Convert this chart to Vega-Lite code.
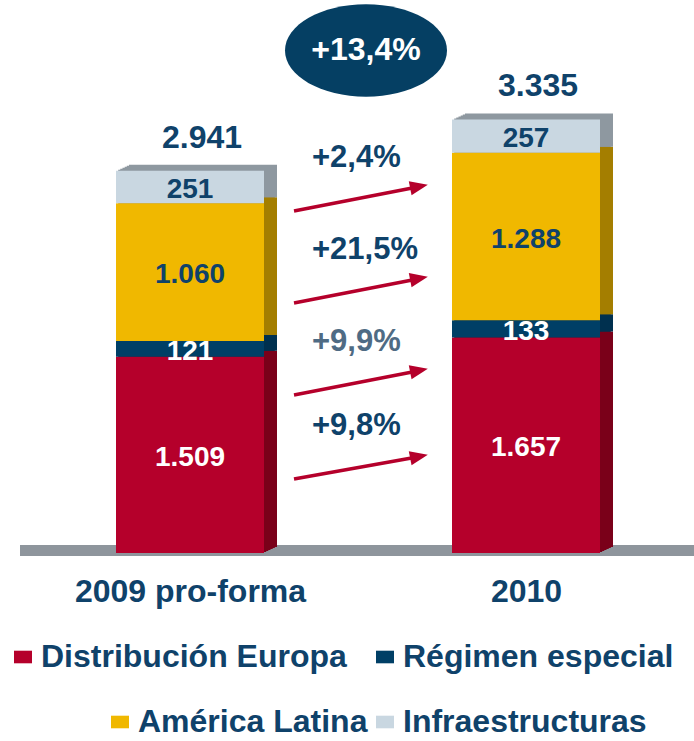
{
  "$schema": "https://vega.github.io/schema/vega-lite/v6.json",
  "width": 694,
  "height": 553,
  "autosize": {"type": "none"},
  "padding": {"left": 0, "top": 0, "right": 0, "bottom": 188},
  "background": "#ffffff",
  "config": {
    "view": {"stroke": null},
    "font": "Liberation Sans",
    "axisX": {"domain": false, "ticks": false, "grid": false, "labelFont": "Liberation Sans", "labelFontSize": 32, "labelFontWeight": "bold", "labelColor": "#0F426A", "labelPadding": 23, "labelAngle": 0, "labelLimit": 500},
    "legend": {"labelFont": "Liberation Sans", "labelFontSize": 32, "labelFontWeight": "bold", "labelColor": "#0F426A", "labelLimit": 600, "symbolType": "M-1,-0.7H1V0.7H-1Z", "symbolSize": 324, "labelOffset": 10, "symbolStrokeWidth": 0}
  },
  "data": {"values": [
    {"year": "2009 pro-forma", "segment": "Distribución Europa", "value": 1509, "label": "1.509", "orden": 1},
    {"year": "2009 pro-forma", "segment": "Régimen especial", "value": 121, "label": "121", "orden": 2},
    {"year": "2009 pro-forma", "segment": "América Latina", "value": 1060, "label": "1.060", "orden": 3},
    {"year": "2009 pro-forma", "segment": "Infraestructuras", "value": 251, "label": "251", "orden": 4},
    {"year": "2010", "segment": "Distribución Europa", "value": 1657, "label": "1.657", "orden": 1},
    {"year": "2010", "segment": "Régimen especial", "value": 133, "label": "133", "orden": 2},
    {"year": "2010", "segment": "América Latina", "value": 1288, "label": "1.288", "orden": 3},
    {"year": "2010", "segment": "Infraestructuras", "value": 257, "label": "257", "orden": 4}
  ]},
  "layer": [
    {
      "data": {"values": [{"nivel": 0}]},
      "mark": {"type": "rule", "color": "#8E959C", "strokeWidth": 11, "xOffset": -170, "x2Offset": 168, "yOffset": -2.5, "y2Offset": -2.5},
      "encoding": {
        "x": {"datum": "2009 pro-forma", "type": "nominal", "title": null, "scale": {"type": "point", "domain": ["2009 pro-forma", "2010"], "range": [190, 526], "padding": 0}},
        "x2": {"datum": "2010"},
        "y": {"field": "nivel", "type": "quantitative", "scale": {"domain": [0, 4254]}, "axis": null}
      }
    },
    {
      "mark": {"type": "bar", "width": 148, "xOffset": 2.2, "yOffset": -1, "y2Offset": -1},
      "encoding": {
        "x": {"field": "year", "type": "nominal", "title": null, "scale": {"type": "point", "domain": ["2009 pro-forma", "2010"], "range": [190, 526], "padding": 0}},
        "y": {"field": "value", "type": "quantitative", "stack": "zero", "scale": {"domain": [0, 4254]}, "axis": null},
        "color": {"field": "segment", "type": "nominal", "scale": {"domain": ["Infraestructuras", "América Latina", "Régimen especial", "Distribución Europa"], "range": ["#8E98A0", "#A47E00", "#00304F", "#7A0019"]}, "legend": null},
        "order": {"field": "orden"}
      }
    },
    {
      "mark": {"type": "bar", "width": 148, "xOffset": 4.3, "yOffset": -2, "y2Offset": -2},
      "encoding": {
        "x": {"field": "year", "type": "nominal", "title": null, "scale": {"type": "point", "domain": ["2009 pro-forma", "2010"], "range": [190, 526], "padding": 0}},
        "y": {"field": "value", "type": "quantitative", "stack": "zero", "scale": {"domain": [0, 4254]}, "axis": null},
        "color": {"field": "segment", "type": "nominal", "scale": {"domain": ["Infraestructuras", "América Latina", "Régimen especial", "Distribución Europa"], "range": ["#8E98A0", "#A47E00", "#00304F", "#7A0019"]}, "legend": null},
        "order": {"field": "orden"}
      }
    },
    {
      "mark": {"type": "bar", "width": 148, "xOffset": 6.5, "yOffset": -3, "y2Offset": -3},
      "encoding": {
        "x": {"field": "year", "type": "nominal", "title": null, "scale": {"type": "point", "domain": ["2009 pro-forma", "2010"], "range": [190, 526], "padding": 0}},
        "y": {"field": "value", "type": "quantitative", "stack": "zero", "scale": {"domain": [0, 4254]}, "axis": null},
        "color": {"field": "segment", "type": "nominal", "scale": {"domain": ["Infraestructuras", "América Latina", "Régimen especial", "Distribución Europa"], "range": ["#8E98A0", "#A47E00", "#00304F", "#7A0019"]}, "legend": null},
        "order": {"field": "orden"}
      }
    },
    {
      "mark": {"type": "bar", "width": 148, "xOffset": 8.7, "yOffset": -4, "y2Offset": -4},
      "encoding": {
        "x": {"field": "year", "type": "nominal", "title": null, "scale": {"type": "point", "domain": ["2009 pro-forma", "2010"], "range": [190, 526], "padding": 0}},
        "y": {"field": "value", "type": "quantitative", "stack": "zero", "scale": {"domain": [0, 4254]}, "axis": null},
        "color": {"field": "segment", "type": "nominal", "scale": {"domain": ["Infraestructuras", "América Latina", "Régimen especial", "Distribución Europa"], "range": ["#8E98A0", "#A47E00", "#00304F", "#7A0019"]}, "legend": null},
        "order": {"field": "orden"}
      }
    },
    {
      "mark": {"type": "bar", "width": 148, "xOffset": 10.8, "yOffset": -5, "y2Offset": -5},
      "encoding": {
        "x": {"field": "year", "type": "nominal", "title": null, "scale": {"type": "point", "domain": ["2009 pro-forma", "2010"], "range": [190, 526], "padding": 0}},
        "y": {"field": "value", "type": "quantitative", "stack": "zero", "scale": {"domain": [0, 4254]}, "axis": null},
        "color": {"field": "segment", "type": "nominal", "scale": {"domain": ["Infraestructuras", "América Latina", "Régimen especial", "Distribución Europa"], "range": ["#8E98A0", "#A47E00", "#00304F", "#7A0019"]}, "legend": null},
        "order": {"field": "orden"}
      }
    },
    {
      "mark": {"type": "bar", "width": 148, "xOffset": 13, "yOffset": -6, "y2Offset": -6},
      "encoding": {
        "x": {"field": "year", "type": "nominal", "title": null, "scale": {"type": "point", "domain": ["2009 pro-forma", "2010"], "range": [190, 526], "padding": 0}},
        "y": {"field": "value", "type": "quantitative", "stack": "zero", "scale": {"domain": [0, 4254]}, "axis": null},
        "color": {"field": "segment", "type": "nominal", "scale": {"domain": ["Infraestructuras", "América Latina", "Régimen especial", "Distribución Europa"], "range": ["#8E98A0", "#A47E00", "#00304F", "#7A0019"]}, "legend": null},
        "order": {"field": "orden"}
      }
    },
    {
      "mark": {"type": "bar", "width": 148, "strokeWidth": 0},
      "encoding": {
        "x": {"field": "year", "type": "nominal", "title": null, "scale": {"type": "point", "domain": ["2009 pro-forma", "2010"], "range": [190, 526], "padding": 0}},
        "y": {"field": "value", "type": "quantitative", "stack": "zero", "scale": {"domain": [0, 4254]}, "axis": null},
        "fill": {"field": "segment", "type": "nominal",
          "scale": {"domain": ["Distribución Europa", "Régimen especial", "América Latina", "Infraestructuras"], "range": ["#B5002B", "#003F66", "#F0B800", "#C9D7E1"]},
          "legend": {"orient": "none", "legendX": 14, "legendY": 641, "direction": "horizontal", "columns": 2, "title": null, "columnPadding": 8, "rowPadding": 33,
            "encode": {
              "symbols": {"update": {"x": {"signal": "datum.value === 'América Latina' ? 106 : 9"}}},
              "labels": {"update": {"dx": {"signal": "datum.value === 'América Latina' ? 82 : -15"}}}
            }}},
        "order": {"field": "orden"}
      }
    },
    {
      "mark": {"type": "text", "font": "Liberation Sans", "fontWeight": "bold", "fontSize": 28, "align": "center", "baseline": "middle", "dy": 3},
      "encoding": {
        "x": {"field": "year", "type": "nominal", "title": null, "scale": {"type": "point", "domain": ["2009 pro-forma", "2010"], "range": [190, 526], "padding": 0}},
        "y": {"field": "value", "type": "quantitative", "stack": "zero", "bandPosition": 0.5, "scale": {"domain": [0, 4254]}, "axis": null},
        "detail": {"field": "segment"},
        "order": {"field": "orden"},
        "text": {"field": "label"},
        "color": {"condition": {"test": "datum.segment === 'Distribución Europa' || datum.segment === 'Régimen especial'", "value": "#FFFFFF"}, "value": "#0F426A"}
      }
    },
    {
      "data": {"values": [
        {"year": "2009 pro-forma", "total": 2941, "label": "2.941"},
        {"year": "2010", "total": 3335, "label": "3.335"}
      ]},
      "mark": {"type": "text", "font": "Liberation Sans", "fontWeight": "bold", "fontSize": 32, "align": "center", "baseline": "middle", "dy": -33, "xOffset": 12, "color": "#0F426A"},
      "encoding": {
        "x": {"field": "year", "type": "nominal", "title": null, "scale": {"type": "point", "domain": ["2009 pro-forma", "2010"], "range": [190, 526], "padding": 0}},
        "y": {"field": "total", "type": "quantitative", "scale": {"domain": [0, 4254]}, "axis": null},
        "text": {"field": "label"}
      }
    },
    {
      "data": {"name": "growth", "values": [
        {"segment": "Infraestructuras", "label": "+2,4%", "from": 2631, "to": 2819},
        {"segment": "América Latina", "label": "+21,5%", "from": 1923, "to": 2112},
        {"segment": "Régimen especial", "label": "+9,9%", "from": 1215, "to": 1404},
        {"segment": "Distribución Europa", "label": "+9,8%", "from": 569, "to": 742}
      ]},
      "layer": [
        {
          "mark": {"type": "rule", "color": "#B5002B", "strokeWidth": 3.5, "xOffset": 104, "x2Offset": -106},
          "encoding": {
            "x": {"datum": "2009 pro-forma", "type": "nominal", "title": null, "scale": {"type": "point", "domain": ["2009 pro-forma", "2010"], "range": [190, 526], "padding": 0}},
            "x2": {"datum": "2010"},
            "y": {"field": "from", "type": "quantitative", "scale": {"domain": [0, 4254]}, "axis": null},
            "y2": {"field": "to"}
          }
        },
        {
          "mark": {"type": "point", "shape": "M-1,-0.8L1,0L-1,0.8Z", "size": 324, "angle": -11, "filled": true, "opacity": 1, "color": "#B5002B", "xOffset": -107},
          "encoding": {
            "x": {"datum": "2010", "type": "nominal", "title": null, "scale": {"type": "point", "domain": ["2009 pro-forma", "2010"], "range": [190, 526], "padding": 0}},
            "y": {"field": "to", "type": "quantitative", "scale": {"domain": [0, 4254]}, "axis": null}
          }
        },
        {
          "mark": {"type": "text", "font": "Liberation Sans", "fontWeight": "bold", "fontSize": 31, "align": "left", "baseline": "middle", "dy": -53, "xOffset": 122},
          "encoding": {
            "x": {"datum": "2009 pro-forma", "type": "nominal", "title": null, "scale": {"type": "point", "domain": ["2009 pro-forma", "2010"], "range": [190, 526], "padding": 0}},
            "y": {"field": "from", "type": "quantitative", "scale": {"domain": [0, 4254]}, "axis": null},
            "text": {"field": "label"},
            "color": {"condition": {"test": "datum.segment === 'Régimen especial'", "value": "#4F6B84"}, "value": "#0F426A"}
          }
        }
      ]
    },
    {
      "data": {"values": [{"year": "2010", "total": 3335, "label": "+13,4%"}]},
      "layer": [
        {
          "mark": {"type": "point", "shape": "M-1,0A1,0.57,0,1,0,1,0A1,0.57,0,1,0,-1,0Z", "size": 26244, "filled": true, "opacity": 1, "color": "#053F63", "xOffset": -160, "yOffset": -69},
          "encoding": {
            "x": {"field": "year", "type": "nominal", "title": null, "scale": {"type": "point", "domain": ["2009 pro-forma", "2010"], "range": [190, 526], "padding": 0}},
            "y": {"field": "total", "type": "quantitative", "scale": {"domain": [0, 4254]}, "axis": null}
          }
        },
        {
          "mark": {"type": "text", "font": "Liberation Sans", "fontWeight": "bold", "fontSize": 32, "align": "center", "baseline": "middle", "color": "#FFFFFF", "xOffset": -160, "yOffset": -69},
          "encoding": {
            "x": {"field": "year", "type": "nominal", "title": null, "scale": {"type": "point", "domain": ["2009 pro-forma", "2010"], "range": [190, 526], "padding": 0}},
            "y": {"field": "total", "type": "quantitative", "scale": {"domain": [0, 4254]}, "axis": null},
            "text": {"field": "label"}
          }
        }
      ]
    }
  ]
}
